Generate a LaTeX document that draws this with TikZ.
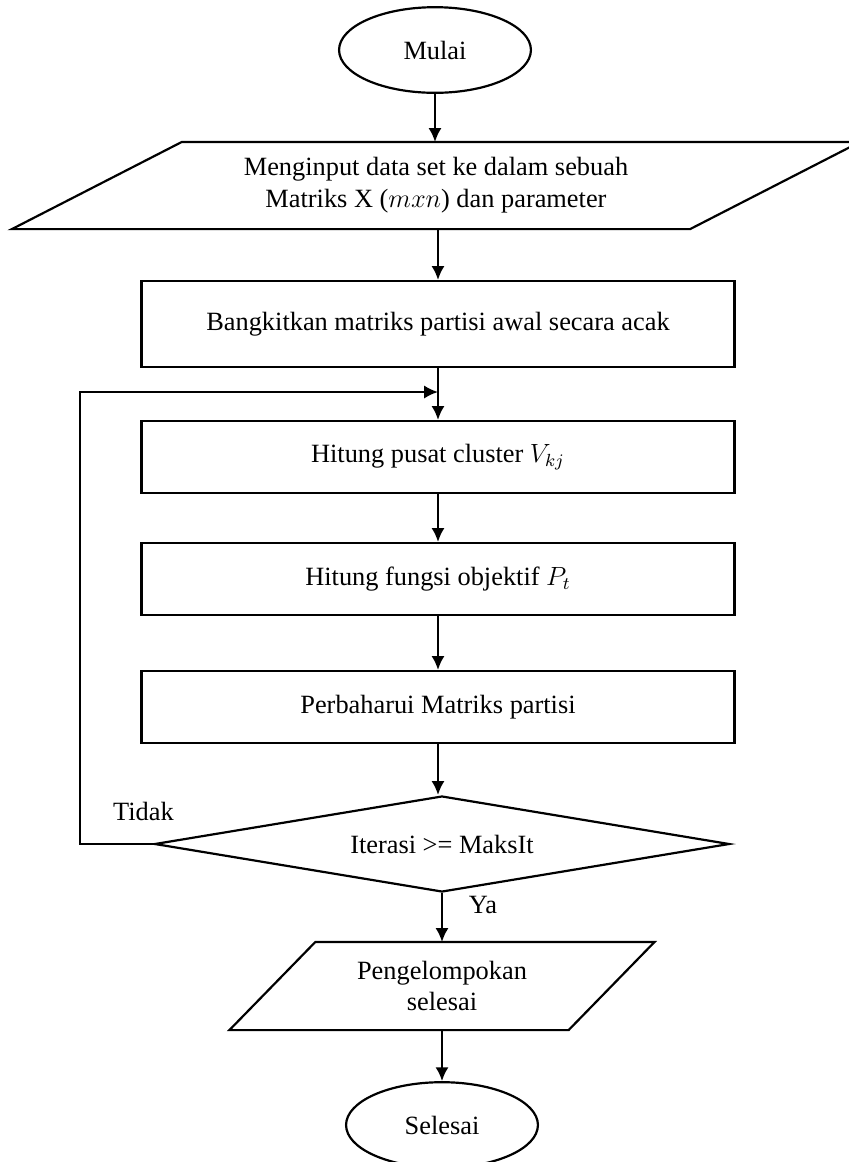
\documentclass[tikz,border=0pt,12pt]{standalone}
\usepackage{fontspec}
\setmainfont{Liberation Serif}
\usetikzlibrary{shapes.geometric,arrows.meta}

\tikzset{
  terminal/.style={draw,ellipse,minimum width=3.07cm,minimum height=1.37cm},
  proses/.style={draw,rectangle,minimum width=9.488cm,minimum height=1.152cm},
  masukan/.style={rectangle,inner sep=0pt,align=center},
  keputusan/.style={draw,diamond,aspect=8,inner sep=0pt,minimum width=9.2cm,minimum height=1.536cm}
}

\begin{document}
\begin{tikzpicture}[line width=1pt]
\useasboundingbox (0,0) rectangle (13.584,-18.592);

\node[terminal] (mulai) at (6.96,-0.8) {Mulai};
\node[masukan,minimum width=10.816cm,minimum height=1.36cm] (input) at (6.976,-2.968)
  {Menginput data set ke dalam sebuah\\Matriks X ($mxn$) dan parameter};
\draw ([xshift=-1.36cm]input.south west) -- ([xshift=1.36cm]input.north west)
  -- ([xshift=1.36cm]input.north east) -- ([xshift=-1.36cm]input.south east) -- cycle;

\node[proses,minimum height=1.376cm] (bangkit) at (7.008,-5.184) {Bangkitkan matriks partisi awal secara acak};
\node[proses] (pusat) at (7.008,-7.312) {Hitung pusat cluster $V_{kj}$};
\node[proses] (objektif) at (7.008,-9.264) {Hitung fungsi objektif $P_t$};
\node[proses] (perbarui) at (7.008,-11.312) {Perbaharui Matriks partisi};
\node[keputusan] (cek) at (7.072,-13.504) {Iterasi >= MaksIt};

\node[masukan,minimum width=5.392cm,minimum height=1.376cm] (hasil) at (7.072,-15.776)
  {Pengelompokan\\selesai};
\draw ([xshift=-0.688cm]hasil.south west) -- ([xshift=0.688cm]hasil.north west)
  -- ([xshift=0.688cm]hasil.north east) -- ([xshift=-0.688cm]hasil.south east) -- cycle;

\node[terminal] (selesai) at (7.072,-18.0) {Selesai};

\node (tidak) at (2.296,-12.976) {Tidak};
\node (ya) at (7.728,-14.48) {Ya};

\coordinate (gabung) at (7.008,-6.272);
\coordinate (kiri) at (1.28,-6.272);

\draw[->,>={Latex[length=6.3pt,width=6pt]}] (mulai) -- (mulai |- input.north);
\draw[->,>={Latex[length=6.3pt,width=6pt]}] (bangkit |- input.south) -- (bangkit);
\draw[->,>={Latex[length=6.3pt,width=6pt]}] (bangkit) -- (pusat);
\draw[->,>={Latex[length=6.3pt,width=6pt]}] (pusat) -- (objektif);
\draw[->,>={Latex[length=6.3pt,width=6pt]}] (objektif) -- (perbarui);
\draw[->,>={Latex[length=6.3pt,width=6pt]}] (perbarui) -- (perbarui |- cek.north);
\draw[->,>={Latex[length=6.3pt,width=6pt]}] (cek) -- (hasil);
\draw[->,>={Latex[length=6.3pt,width=6pt]}] (hasil) -- (selesai);
\draw[->,>={Latex[length=6.3pt,width=6pt]}] (cek.west) -| (kiri) -- (gabung);

\end{tikzpicture}
\end{document}
